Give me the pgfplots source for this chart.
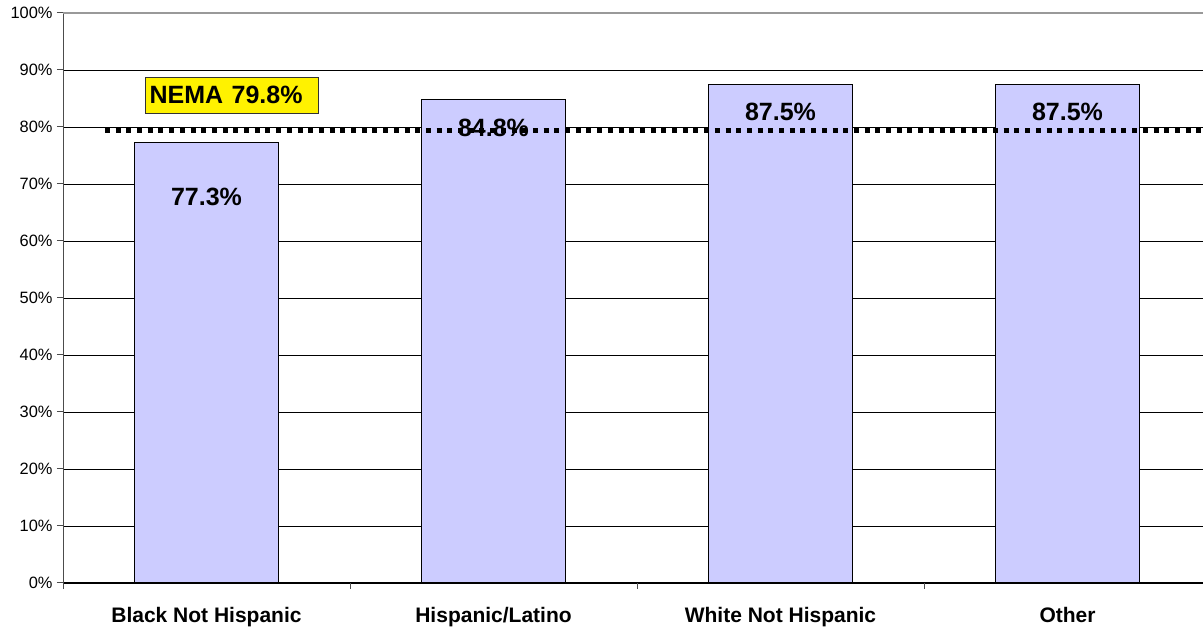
\documentclass[border=0pt]{standalone}
\usepackage{pgfplots}
\pgfplotsset{compat=1.18}
\usepackage{fontspec}
\setmainfont{Liberation Sans}
\definecolor{barfill}{RGB}{204,204,255}
\begin{document}
\begin{tikzpicture}[x=1pt,y=1pt]
\path[use as bounding box] (0,0) rectangle (1203,629);
\begin{axis}[
  at={(63pt,46pt)}, anchor=south west,
  scale only axis, width=1140pt, height=570pt,
  xmin=-0.5, xmax=3.472, ymin=0, ymax=100,
  axis x line*=bottom, axis y line*=left,
  axis line style={-, black, line width=1pt},
  y axis line style={draw=black!70},
  xtick={-0.5,0.5,1.5,2.5},
  xticklabels={Black Not Hispanic, Hispanic/Latino, White Not Hispanic, Other},
  x tick style={draw=black!70, line width=1pt},
  xtick align=outside,
  xticklabel style={font=\fontsize{21}{24}\selectfont\bfseries, xshift=143.5pt, yshift=-15pt},
  ytick={0,10,...,100},
  yticklabel={\pgfmathprintnumber{\tick}\%},
  yticklabel style={font=\fontsize{16.4}{18}\selectfont, xshift=-1pt},
  /pgf/number format/assume math mode=true,
  ytick align=outside, major tick length=6pt,
  ytick style={draw=black!70, line width=1pt},
  ymajorgrids, grid style={black, line width=0.8pt},
  clip=true,
]
\addplot[ybar, bar width=0.5, fill=barfill, draw=black, line width=1pt]
  coordinates {(0,77.3) (1,84.8) (2,87.5) (3,87.5)};
\addplot[black, line width=5pt, dash pattern=on 5pt off 5.7pt]
  coordinates {(-0.354,79.3) (3.5,79.3)};
\draw[gray!80, line width=1.2pt] (axis cs:-0.5,100) -- (axis cs:3.472,100);
\node[font=\fontsize{25}{28}\selectfont\bfseries] at (axis cs:0,67.7) {77.3\%};
\node[font=\fontsize{25}{28}\selectfont\bfseries] at (axis cs:1,79.9) {84.8\%};
\node[font=\fontsize{25}{28}\selectfont\bfseries] at (axis cs:2,82.6) {87.5\%};
\node[font=\fontsize{25}{28}\selectfont\bfseries] at (axis cs:3,82.6) {87.5\%};
\node[fill=yellow, draw=black!80, line width=1pt, font=\fontsize{25}{28}\selectfont\bfseries,
  minimum width=173pt, minimum height=36pt, inner sep=2pt, align=left, text width=165pt]
  at (axis cs:0.0895,85.6) {NEMA 79.8\%};
\end{axis}
\end{tikzpicture}
\end{document}
